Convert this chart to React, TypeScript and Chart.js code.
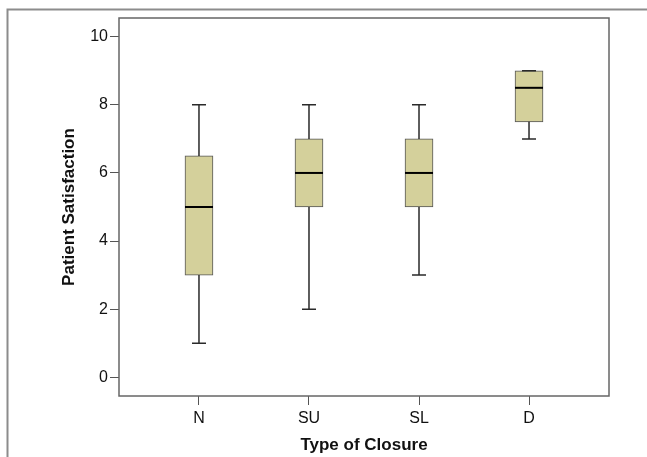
import React, { useEffect, useRef } from "react";
import { Chart, registerables } from "chart.js";

Chart.register(...registerables);

const categories = ["N", "SU", "SL", "D"];
const positions = [1, 2, 3, 4];
const mins = [1, 2, 3, 7];
const q1s = [3, 5, 5, 7.5];
const medians = [5, 6, 6, 8.5];
const q3s = [6.5, 7, 7, 9];
const maxs = [8, 8, 8, 9];
const yTickValues = [0, 2, 4, 6, 8, 10];

const FONT = "'Liberation Sans', Arial, sans-serif";

const boxPlugin = {
  id: "boxExtras",
  beforeDraw(chart: any) {
    const ctx = chart.ctx;
    ctx.save();
    ctx.strokeStyle = "#8c8c8c";
    ctx.lineWidth = 2;
    ctx.beginPath();
    ctx.moveTo(7.5, 457);
    ctx.lineTo(7.5, 9.5);
    ctx.lineTo(647, 9.5);
    ctx.stroke();
    ctx.restore();
  },
  afterDatasetsDraw(chart: any) {
    const ctx = chart.ctx;
    const xs = chart.scales.x;
    const ys = chart.scales.y;
    const boxHalf = 14;
    const capHalf = 7;
    ctx.save();
    positions.forEach((p, i) => {
      const x = xs.getPixelForValue(p);
      const yMin = ys.getPixelForValue(mins[i]);
      const yQ1 = ys.getPixelForValue(q1s[i]);
      const yMed = ys.getPixelForValue(medians[i]);
      const yQ3 = ys.getPixelForValue(q3s[i]);
      const yMax = ys.getPixelForValue(maxs[i]);
      ctx.strokeStyle = "#2a2a2a";
      ctx.lineWidth = 1.5;
      ctx.beginPath();
      ctx.moveTo(x, yQ3);
      ctx.lineTo(x, yMax);
      ctx.moveTo(x, yQ1);
      ctx.lineTo(x, yMin);
      ctx.moveTo(x - capHalf, yMax);
      ctx.lineTo(x + capHalf, yMax);
      ctx.moveTo(x - capHalf, yMin);
      ctx.lineTo(x + capHalf, yMin);
      ctx.stroke();
      ctx.strokeStyle = "#000";
      ctx.lineWidth = 2;
      ctx.beginPath();
      ctx.moveTo(x - boxHalf, yMed);
      ctx.lineTo(x + boxHalf, yMed);
      ctx.stroke();
    });
    const a = chart.chartArea;
    ctx.strokeStyle = "#666";
    ctx.lineWidth = 1.5;
    ctx.strokeRect(a.left, a.top, a.right - a.left, a.bottom - a.top);
    ctx.restore();
  },
};

export default function App() {
  const ref = useRef<HTMLCanvasElement>(null);
  useEffect(() => {
    document.body.style.margin = "0";
    const chart = new Chart(ref.current!, {
      type: "bar",
      data: {
        datasets: [
          {
            data: positions.map((p, i) => ({ x: p, y: [q1s[i], q3s[i]] })) as any,
            backgroundColor: "#d4d09b",
            borderColor: "#555",
            borderWidth: 1,
            borderSkipped: false,
            barThickness: 28,
          },
        ],
      },
      options: {
        animation: false,
        responsive: false,
        devicePixelRatio: 1,
        layout: { padding: { top: 18, right: 38, left: 0, bottom: 0 } },
        plugins: { legend: { display: false }, tooltip: { enabled: false } },
        scales: {
          x: {
            type: "linear",
            offset: false,
            min: 0.273,
            max: 4.727,
            afterBuildTicks: (s: any) => {
              s.ticks = positions.map((v) => ({ value: v }));
            },
            afterFit: (s: any) => {
              s.height = 61;
            },
            ticks: {
              color: "#111",
              font: { family: FONT, size: 16 },
              padding: 4,
              maxRotation: 0,
              callback: (v: any) => categories[positions.indexOf(Number(v))] ?? "",
            },
            grid: { display: true, offset: false, drawOnChartArea: false, drawTicks: true, tickLength: 9, color: "#555" },
            border: { display: false },
            title: {
              display: true,
              text: "Type of Closure",
              color: "#111",
              font: { family: FONT, size: 17, weight: "bold" },
              padding: { top: 0, bottom: 1 },
            },
          },
          y: {
            type: "linear",
            min: -0.55,
            max: 10.55,
            afterBuildTicks: (s: any) => {
              s.ticks = yTickValues.map((v) => ({ value: v }));
            },
            afterFit: (s: any) => {
              s.width = 119;
            },
            ticks: {
              color: "#111",
              font: { family: FONT, size: 16 },
              padding: 2,
            },
            grid: { display: true, drawOnChartArea: false, drawTicks: true, tickLength: 9, color: "#555" },
            border: { display: false },
            title: {
              display: true,
              text: "Patient Satisfaction",
              color: "#111",
              font: { family: FONT, size: 17, weight: "bold" },
              padding: { top: 59, bottom: 0 },
            },
          },
        },
      },
      plugins: [boxPlugin],
    });
    return () => chart.destroy();
  }, []);
  return <canvas ref={ref} width={647} height={457} style={{ display: "block" }} />;
}
